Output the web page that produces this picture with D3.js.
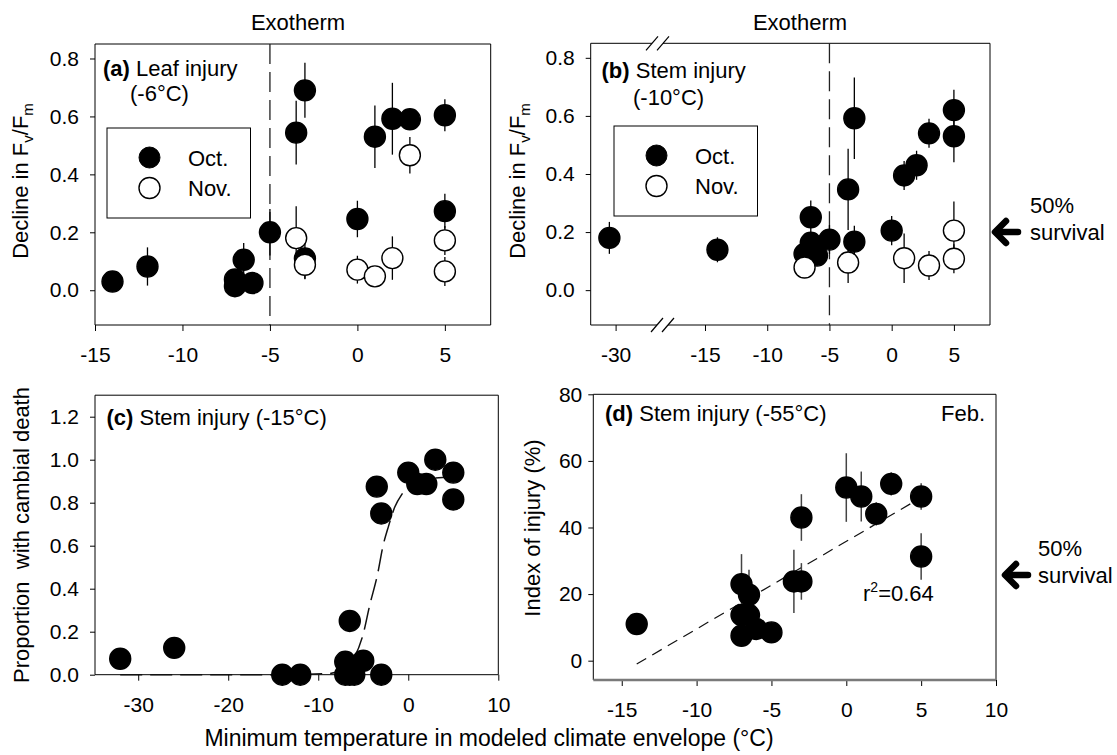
<!DOCTYPE html>
<html>
<head>
<meta charset="utf-8">
<script src="https://cdn.jsdelivr.net/npm/d3@7"></script>
<style>
  body { margin: 0; background: #fff; }
  svg { display: block; font-family: "Liberation Sans", Arial, sans-serif; }
  .tick text { font-size: 21px; fill: #000; font-family: "Liberation Sans", Arial, sans-serif; }
  .tick line { stroke: #000; stroke-width: 1; }
</style>
</head>
<body>
<svg id="fig" width="1117" height="755"></svg>
<script>
// ---- Data -------------------------------------------------------------
// t = minimum temperature of climate envelope (°C), v = value, e = error bar half-length

// (a) Leaf injury after -6 °C: decline in Fv/Fm
const leafOct = [
  {t: -14, v: 0.030, e: 0},
  {t: -12, v: 0.082, e: 0.066},
  {t: -7,  v: 0.037, e: 0},
  {t: -7,  v: 0.014, e: 0},
  {t: -6.5, v: 0.105, e: 0.058},
  {t: -6,  v: 0.025, e: 0},
  {t: -5,  v: 0.200, e: 0.080},
  {t: -3.5, v: 0.544, e: 0.110},
  {t: -3,  v: 0.690, e: 0.095},
  {t: -3,  v: 0.110, e: 0.070},
  {t: 0,   v: 0.246, e: 0.063},
  {t: 1,   v: 0.530, e: 0.108},
  {t: 2,   v: 0.592, e: 0.124},
  {t: 3,   v: 0.590, e: 0},
  {t: 5,   v: 0.604, e: 0.055},
  {t: 5,   v: 0.273, e: 0.060}
];
const leafNov = [
  {t: -3.5, v: 0.180, e: 0.110},
  {t: -3,  v: 0.088, e: 0.050},
  {t: 0,   v: 0.071, e: 0.048},
  {t: 1,   v: 0.048, e: 0},
  {t: 2,   v: 0.111, e: 0.075},
  {t: 3,   v: 0.466, e: 0.063},
  {t: 5,   v: 0.172, e: 0.050},
  {t: 5,   v: 0.065, e: 0.050}
];

// (b) Stem injury after -10 °C: decline in Fv/Fm
const stemOct = [
  {t: -30.5, v: 0.180, e: 0.055},
  {t: -14, v: 0.139, e: 0.043},
  {t: -7,  v: 0.125, e: 0},
  {t: -6.5, v: 0.251, e: 0.058},
  {t: -6.5, v: 0.163, e: 0},
  {t: -6,  v: 0.119, e: 0},
  {t: -5,  v: 0.174, e: 0.050},
  {t: -3.5, v: 0.347, e: 0.140},
  {t: -3,  v: 0.592, e: 0.140},
  {t: -3,  v: 0.167, e: 0.055},
  {t: 0,   v: 0.205, e: 0.050},
  {t: 1,   v: 0.395, e: 0.050},
  {t: 2,   v: 0.430, e: 0.050},
  {t: 3,   v: 0.540, e: 0.050},
  {t: 5,   v: 0.620, e: 0.070},
  {t: 5,   v: 0.530, e: 0.090}
];
const stemNov = [
  {t: -7,  v: 0.078, e: 0},
  {t: -3.5, v: 0.095, e: 0.070},
  {t: 1,   v: 0.110, e: 0.085},
  {t: 3,   v: 0.085, e: 0.050},
  {t: 5,   v: 0.205, e: 0.100},
  {t: 5,   v: 0.108, e: 0.050}
];

// (c) Stem injury after -15 °C: proportion with cambial death
const cambial = [
  {t: -32, v: 0.074}, {t: -26, v: 0.125},
  {t: -14, v: 0}, {t: -12, v: 0},
  {t: -7, v: 0}, {t: -7, v: 0.06}, {t: -6.5, v: 0}, {t: -6, v: 0},
  {t: -6.5, v: 0.25}, {t: -5, v: 0.065}, {t: -3, v: 0},
  {t: -3.5, v: 0.875}, {t: -3, v: 0.75},
  {t: 0, v: 0.94}, {t: 1, v: 0.887}, {t: 2, v: 0.887},
  {t: 3, v: 1.0}, {t: 5, v: 0.94}, {t: 5, v: 0.815}
];
// fitted response curve, read along its length
const cambialFit = [
  {t: -32, v: 0}, {t: -15, v: 0}, {t: -9, v: 0.005}, {t: -7, v: 0.03},
  {t: -6, v: 0.08}, {t: -5, v: 0.19}, {t: -4.3, v: 0.32}, {t: -3.4, v: 0.47},
  {t: -2.8, v: 0.60}, {t: -2.2, v: 0.69}, {t: -1.5, v: 0.78}, {t: -0.7, v: 0.84},
  {t: 0.5, v: 0.89}, {t: 2, v: 0.91}, {t: 5, v: 0.92}
];

// (d) Stem injury after -55 °C (Feb.): index of injury (%)
const injuryFeb = [
  {t: -14, v: 11, e: 0},
  {t: -7,  v: 23, e: 9},
  {t: -6.5, v: 19.8, e: 7.5},
  {t: -7,  v: 13.7, e: 0},
  {t: -6.5, v: 13.7, e: 0},
  {t: -7,  v: 7.5, e: 0},
  {t: -6,  v: 9.5, e: 0},
  {t: -5,  v: 8.5, e: 0},
  {t: -3.5, v: 23.8, e: 9.5},
  {t: -3,  v: 23.8, e: 5.5},
  {t: -3,  v: 43, e: 7},
  {t: 0,   v: 52, e: 10.3},
  {t: 1,   v: 49.3, e: 7.5},
  {t: 2,   v: 44.1, e: 3.5},
  {t: 3,   v: 53.1, e: 3.5},
  {t: 5,   v: 49.3, e: 4},
  {t: 5,   v: 31.3, e: 7}
];
// linear regression line (r² = 0.64)
const injuryFit = [{t: -14, v: -1}, {t: 5, v: 49}];

// exotherm threshold temperature
const exothermT = -5;

// tick values
const ticksFv = [0, 0.2, 0.4, 0.6, 0.8];
const ticksXa = [-15, -10, -5, 0, 5];
const ticksXbLeft = [-30];
const ticksXbRight = [-15, -10, -5, 0, 5];
const ticksYc = [0, 0.2, 0.4, 0.6, 0.8, 1.0, 1.2];
const ticksXc = [-30, -20, -10, 0, 10];
const ticksYd = [0, 20, 40, 60, 80];
const ticksXd = [-15, -10, -5, 0, 5, 10];

// ---- Drawing ----------------------------------------------------------
const svg = d3.select("#fig");
svg.append("rect").attr("width", 1117).attr("height", 755).attr("fill", "#fff");

const R = 10.5;
const FS = 22;
const intFmt = d => String(d);
const f1 = d3.format(".1f");

function line(g, x1, y1, x2, y2, opts = {}) {
  return g.append("line")
    .attr("x1", x1).attr("y1", y1).attr("x2", x2).attr("y2", y2)
    .attr("stroke", opts.color || "#000")
    .attr("stroke-width", opts.width || 1)
    .attr("stroke-dasharray", opts.dash || null);
}

function text(g, x, y, s, opts = {}) {
  return g.append("text")
    .attr("x", x).attr("y", y)
    .attr("font-size", opts.size || FS)
    .attr("text-anchor", opts.anchor || "start")
    .attr("fill", "#000")
    .text(s);
}

function errorBars(g, data, x, y, color, width) {
  g.selectAll(null).data(data.filter(d => d.e > 0)).join("line")
    .attr("x1", d => x(d.t)).attr("x2", d => x(d.t))
    .attr("y1", d => y(d.v - d.e)).attr("y2", d => y(d.v + d.e))
    .attr("stroke", color).attr("stroke-width", width);
}

function dots(g, data, x, y, filled) {
  g.selectAll(null).data(data).join("circle")
    .attr("cx", d => x(d.t)).attr("cy", d => y(d.v)).attr("r", R)
    .attr("fill", filled ? "#000" : "#fff")
    .attr("stroke", "#000").attr("stroke-width", 1.4);
}

function yTitleFv(g, x, y) {
  const t = g.append("text")
    .attr("transform", `translate(${x},${y}) rotate(-90)`)
    .attr("text-anchor", "middle")
    .attr("font-size", FS);
  t.append("tspan").text("Decline in F");
  t.append("tspan").attr("font-size", 15).attr("dy", 5).text("v");
  t.append("tspan").attr("dy", -5).text("/F");
  t.append("tspan").attr("font-size", 15).attr("dy", 5).text("m");
}

function legend(g, x0, y0) {
  g.append("rect").attr("x", x0).attr("y", y0).attr("width", 143.5).attr("height", 90)
    .attr("fill", "#fff").attr("stroke", "#000").attr("stroke-width", 1);
  g.append("circle").attr("cx", x0 + 42.5).attr("cy", y0 + 29.5).attr("r", R)
    .attr("fill", "#000").attr("stroke", "#000");
  g.append("circle").attr("cx", x0 + 42.5).attr("cy", y0 + 60).attr("r", R)
    .attr("fill", "#fff").attr("stroke", "#000").attr("stroke-width", 1.4);
  text(g, x0 + 81, y0 + 37.5, "Oct.");
  text(g, x0 + 81, y0 + 68, "Nov.");
}

function survivalArrow(g, tipX, y, textX) {
  g.append("polyline")
    .attr("points", `${tipX + 11},${y - 11} ${tipX},${y} ${tipX + 11},${y + 11}`)
    .attr("fill", "none").attr("stroke", "#000").attr("stroke-width", 6.5)
    .attr("stroke-linejoin", "round").attr("stroke-linecap", "round");
  line(g, tipX + 2, y, tipX + 23, y, {width: 6.5}).attr("stroke-linecap", "round");
  text(g, textX, y - 19, "50%");
  text(g, textX, y + 8, "survival");
}

// ---------- (a) Leaf injury ----------
{
  const g = svg.append("g");
  const L = 95, Rr = 490.7, T = 44, B = 325;
  const x = d3.scaleLinear().domain([-15, 7.62]).range([L, Rr]);
  const y = d3.scaleLinear().domain([-0.12, 0.85]).range([B, T]);

  g.append("g").attr("transform", `translate(${L},0)`)
    .call(d3.axisLeft(y).tickValues(ticksFv).tickFormat(f1).tickSize(5).tickPadding(11))
    .call(a => a.select(".domain").remove());
  g.append("g").attr("transform", `translate(0,${B})`)
    .call(d3.axisBottom(x).tickValues(ticksXa).tickFormat(intFmt).tickSize(6).tickPadding(16))
    .call(a => a.select(".domain").remove());

  line(g, L, T, L, B); line(g, L, T, Rr, T); line(g, Rr, T, Rr, B); line(g, L, B, Rr, B);
  line(g, x(exothermT), T, x(exothermT), B, {dash: "20,8", width: 1.3, color: "#222"});

  errorBars(g, leafOct, x, y, "#000", 1.3);
  errorBars(g, leafNov, x, y, "#000", 1.3);
  dots(g, leafOct, x, y, true);
  dots(g, leafNov, x, y, false);

  const t1 = text(g, 103, 76, "");
  t1.append("tspan").attr("font-weight", "bold").text("(a)");
  t1.append("tspan").text(" Leaf injury");
  text(g, 130, 101, "(-6°C)");
  legend(g, 107, 128);

  yTitleFv(g, 28, 181);
  text(g, 298, 30, "Exotherm", {anchor: "middle"});
}

// ---------- (b) Stem injury, broken x axis ----------
{
  const g = svg.append("g");
  const L = 590.7, Rr = 990, T = 43.3, B = 325;
  const xL = d3.scaleLinear().domain([-32, -26.7]).range([L, 656.7]);
  const xR = d3.scaleLinear().domain([-18.8, 7.9]).range([657.7, Rr]);
  const x = t => (t < -22 ? xL(t) : xR(t));
  const y = d3.scaleLinear().domain([-0.12, 0.85]).range([B, T]);

  g.append("g").attr("transform", `translate(${L},0)`)
    .call(d3.axisLeft(y).tickValues(ticksFv).tickFormat(f1).tickSize(5).tickPadding(11))
    .call(a => a.select(".domain").remove());
  g.append("g").attr("transform", `translate(0,${B})`)
    .call(d3.axisBottom(xL).tickValues(ticksXbLeft).tickFormat(intFmt).tickSize(6).tickPadding(16))
    .call(a => a.select(".domain").remove());
  g.append("g").attr("transform", `translate(0,${B})`)
    .call(d3.axisBottom(xR).tickValues(ticksXbRight).tickFormat(intFmt).tickSize(6).tickPadding(16))
    .call(a => a.select(".domain").remove());

  // frame with a gap at the axis break
  const gapTop = [652, 663], gapBot = [657, 668];
  line(g, L, T, L, B); line(g, Rr, T, Rr, B);
  line(g, L, T, gapTop[0], T); line(g, gapTop[1], T, Rr, T);
  line(g, L, B, gapBot[0], B); line(g, gapBot[1], B, Rr, B);
  [[gapTop, T], [gapBot, B]].forEach(([gp, yy]) => {
    line(g, gp[0] - 6, yy + 7, gp[0] + 6, yy - 7, {width: 1.2});
    line(g, gp[1] - 6, yy + 7, gp[1] + 6, yy - 7, {width: 1.2});
  });

  line(g, xR(exothermT), T, xR(exothermT), B, {dash: "20,8", width: 1.3, color: "#222"});

  errorBars(g, stemOct, x, y, "#000", 1.3);
  errorBars(g, stemNov, x, y, "#000", 1.3);
  dots(g, stemOct, x, y, true);
  dots(g, stemNov, x, y, false);

  const t1 = text(g, 601.5, 78, "");
  t1.append("tspan").attr("font-weight", "bold").text("(b)");
  t1.append("tspan").text(" Stem injury");
  text(g, 633, 104.5, "(-10°C)");
  legend(g, 614, 126);

  yTitleFv(g, 525, 181);
  text(g, 800, 30, "Exotherm", {anchor: "middle"});

  survivalArrow(svg, 995, 232, 1030);
}

// ---------- (c) Cambial death ----------
{
  const g = svg.append("g");
  const L = 95, Rr = 498.3, T = 395.2, B = 674.7;
  const x = d3.scaleLinear().domain([-34.8, 10]).range([L, Rr]);
  const y = d3.scaleLinear().domain([0, 1.3]).range([B, T]);

  g.append("g").attr("transform", `translate(${L},0)`)
    .call(d3.axisLeft(y).tickValues(ticksYc).tickFormat(f1).tickSize(5).tickPadding(11))
    .call(a => a.select(".domain").remove());
  g.append("g").attr("transform", `translate(0,${B})`)
    .call(d3.axisBottom(x).tickValues(ticksXc).tickFormat(intFmt).tickSize(6).tickPadding(16))
    .call(a => a.select(".domain").remove());

  line(g, L, T, L, B); line(g, L, T, Rr, T); line(g, Rr, T, Rr, B); line(g, L, B, Rr, B);

  g.append("path").datum(cambialFit)
    .attr("d", d3.line().x(d => x(d.t)).y(d => y(d.v)).curve(d3.curveMonotoneX))
    .attr("fill", "none").attr("stroke", "#111").attr("stroke-width", 1.5)
    .attr("stroke-dasharray", "22,8");

  dots(g, cambial, x, y, true);

  const t1 = text(g, 106.5, 424.5, "");
  t1.append("tspan").attr("font-weight", "bold").text("(c)");
  t1.append("tspan").text(" Stem injury (-15°C)");

  g.append("text")
    .attr("transform", `translate(29,535) rotate(-90)`)
    .attr("text-anchor", "middle").attr("font-size", FS)
    .style("white-space", "pre")
    .text("Proportion  with cambial death");
}

// ---------- (d) Index of injury ----------
{
  const g = svg.append("g");
  const L = 593.3, Rr = 996, T = 394.3, B = 680;
  const x = d3.scaleLinear().domain([-16.9, 10]).range([L, Rr]);
  const y = d3.scaleLinear().domain([-5.8, 80]).range([B, T]);

  g.append("g").attr("transform", `translate(${L},0)`)
    .call(d3.axisLeft(y).tickValues(ticksYd).tickFormat(intFmt).tickSize(5).tickPadding(6))
    .call(a => a.select(".domain").remove());
  g.append("g").attr("transform", `translate(0,${B})`)
    .call(d3.axisBottom(x).tickValues(ticksXd).tickFormat(intFmt).tickSize(6).tickPadding(16))
    .call(a => a.select(".domain").remove());

  line(g, L, T, L, B); line(g, L, T, Rr, T); line(g, Rr, T, Rr, B);
  line(g, L, B, Rr, B, {color: "#7a7a7a", width: 2.5});

  g.append("path").datum(injuryFit)
    .attr("d", d3.line().x(d => x(d.t)).y(d => y(d.v)))
    .attr("fill", "none").attr("stroke", "#111").attr("stroke-width", 1.2)
    .attr("stroke-dasharray", "11,7");

  errorBars(g, injuryFeb, x, y, "#444", 1.5);
  dots(g, injuryFeb, x, y, true);

  const t1 = text(g, 605, 421, "");
  t1.append("tspan").attr("font-weight", "bold").text("(d)");
  t1.append("tspan").text(" Stem injury (-55°C)");
  text(g, 985, 421, "Feb.", {anchor: "end"});

  const r2 = text(g, 863, 601, "r");
  r2.append("tspan").attr("font-size", 14).attr("dy", -9).text("2");
  r2.append("tspan").attr("dy", 9).text("=0.64");

  g.append("text")
    .attr("transform", `translate(540,528) rotate(-90)`)
    .attr("text-anchor", "middle").attr("font-size", FS)
    .text("Index of injury (%)");

  survivalArrow(svg, 1005, 575, 1038);
}

// shared x-axis title
text(svg, 489, 746, "Minimum temperature in modeled climate envelope (°C)", {anchor: "middle", size: 23});
</script>
</body>
</html>
